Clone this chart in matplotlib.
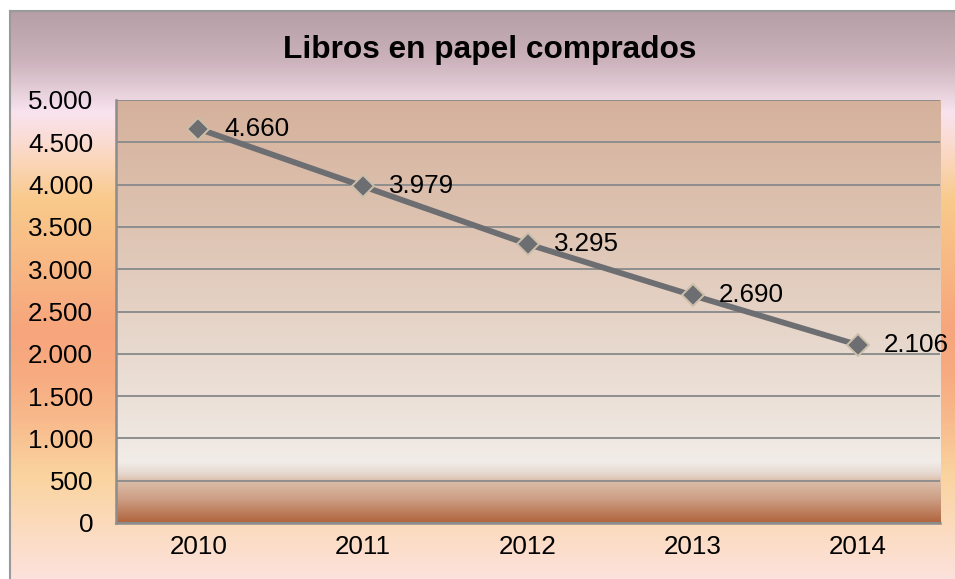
import numpy as np
import matplotlib
matplotlib.use("Agg")
import matplotlib.pyplot as plt
from matplotlib.colors import to_rgb
from matplotlib.lines import Line2D
from matplotlib.ticker import FuncFormatter

years = ["2010", "2011", "2012", "2013", "2014"]
values = [4660, 3979, 3295, 2690, 2106]
labels = ["4.660", "3.979", "3.295", "2.690", "2.106"]
title = "Libros en papel comprados"
yticks = list(range(0, 5001, 500))

plt.rcParams['font.family'] = ['Liberation Sans', 'DejaVu Sans']

W, H = 955, 579
fig = plt.figure(figsize=(W / 100, H / 100), dpi=100)
fig.patch.set_facecolor("white")


def gradient(stops, n):
    ys = np.array([s[0] for s in stops], dtype=float)
    cols = np.array([to_rgb(s[1]) for s in stops])
    yy = np.linspace(ys[0], ys[-1], n)
    arr = np.stack([np.interp(yy, ys, cols[:, k]) for k in range(3)], axis=1)
    return arr[:, None, :]


# outer chart background (pixel rows from top)
outer_stops = [(10, "#b59ea6"), (60, "#cbb2bb"), (112, "#f8e3ee"), (140, "#fbdcd3"),
               (200, "#f9ca8b"), (330, "#f7a57c"), (375, "#f7ab80"), (420, "#f8ba8c"),
               (475, "#fad39e"), (579, "#fde2dd")]
bg = fig.add_axes([9 / W, 0, 1 - 9 / W, (H - 10) / H], zorder=-10)
bg.imshow(gradient(outer_stops, 600), aspect="auto", extent=[0, 1, 0, 1],
          interpolation="bilinear")
bg.set_axis_off()
fig.add_artist(Line2D([9.5 / W, 9.5 / W], [0, (H - 10.5) / H], color="#9a9a9a", lw=1.5,
                      transform=fig.transFigure))
fig.add_artist(Line2D([9.5 / W, 1], [(H - 10.5) / H, (H - 10.5) / H], color="#9a9a9a", lw=1.5,
                      transform=fig.transFigure))

L, R, T, B = 116, 940, 100, 523
ax = fig.add_axes([L / W, (H - B) / H, (R - L) / W, (B - T) / H])
ax.set_facecolor("none")

plot_stops = [(100, "#d5b19b"), (230, "#dec4b3"), (350, "#e8d9ce"), (440, "#efe7e1"),
              (462, "#f2ede9"), (474, "#e6d8cf"), (481, "#dcbfab"), (500, "#cc9d83"),
              (523, "#b0643d")]
ax.imshow(gradient(plot_stops, 500), aspect="auto", extent=[0, 1, 0, 1],
          transform=ax.transAxes, zorder=0, interpolation="bilinear")

x = np.arange(len(years))
ax.set_xlim(-0.5, len(years) - 0.5)
ax.set_ylim(0, 5000)
ax.set_yticks(yticks)
ax.yaxis.set_major_formatter(FuncFormatter(lambda v, p: f"{int(v):,}".replace(",", ".")))
ax.set_xticks(x)
ax.set_xticklabels(years)
ax.grid(axis="y", color="#8e8e8e", lw=1.4, zorder=1)
ax.set_axisbelow(False)
ax.tick_params(axis="both", length=0, labelsize=18.7, colors="black")
ax.tick_params(axis="y", pad=16.5)
ax.tick_params(axis="x", pad=9)
for s in ["top", "right"]:
    ax.spines[s].set_visible(False)
for s in ["left", "bottom"]:
    ax.spines[s].set_color("#8c8c8c")
    ax.spines[s].set_linewidth(1.8)
    ax.spines[s].set_zorder(3)

ax.plot(x, values, color="#6d6e72", lw=4.2, marker="D", markersize=11.5,
        markerfacecolor="#6d6e72", markeredgecolor="#cbbfab", markeredgewidth=1.4,
        zorder=4, clip_on=False)

for xi, v, lab in zip(x, values, labels):
    ax.annotate(lab, (xi, v), xytext=(18.5, 0), textcoords="offset points",
                ha="left", va="center", fontsize=18.7, color="black", zorder=5,
                annotation_clip=False)

fig.text(490 / W, 1 - 50 / H, title, ha="center", va="center", fontsize=22.8,
         fontweight="bold", color="black")

fig.savefig("out.png", dpi=100)
